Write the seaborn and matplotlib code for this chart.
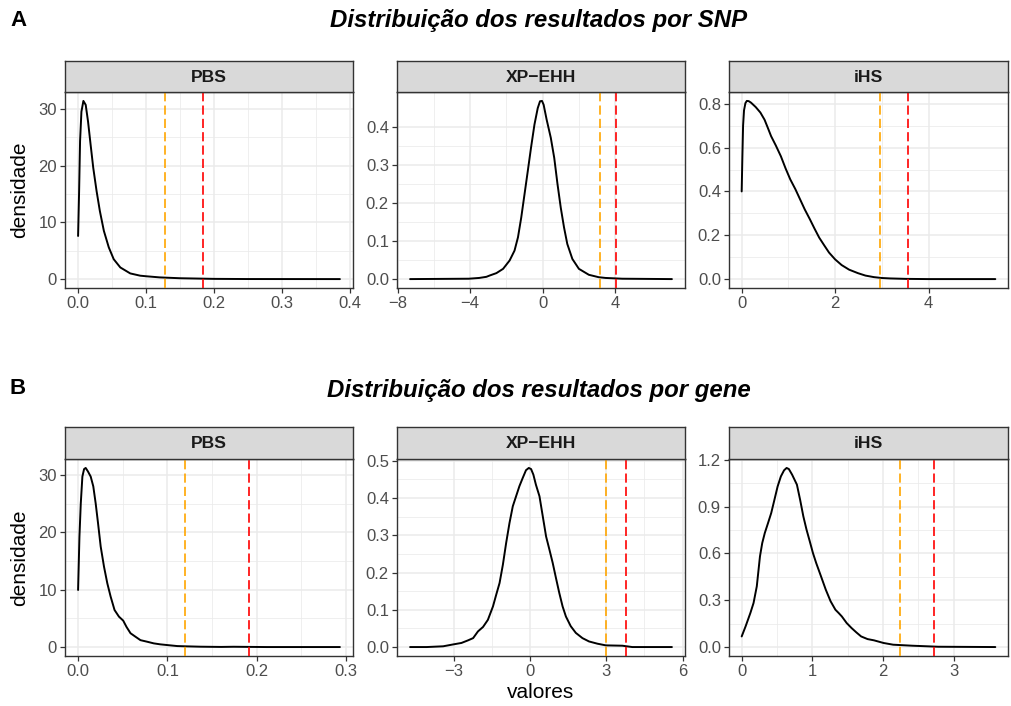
import numpy as np
import pandas as pd
import matplotlib
matplotlib.use("Agg")
import matplotlib.pyplot as plt
from matplotlib.ticker import FixedLocator
import seaborn as sns

sns.set_theme(style="white")
plt.rcParams['font.family'] = ['Liberation Sans', 'DejaVu Sans']

# ---------------- data ----------------
panel_names = ["PBS", "XP\u2212EHH", "iHS"]
row_titles = ["Distribuição dos resultados por SNP", "Distribuição dos resultados por gene"]
row_tags = ["A", "B"]

# Row A – per SNP
snp_pbs_x = [0.0, 0.0015, 0.0029, 0.0049, 0.0078, 0.0112, 0.0146, 0.0184, 0.0223, 0.0272, 0.032,
             0.0379, 0.0451, 0.0524, 0.0621, 0.0767, 0.0913, 0.100, 0.120, 0.150, 0.200, 0.250, 0.385]
snp_pbs_y = [7.6, 15.5, 24.3, 29.5, 31.4, 30.7, 27.8, 23.7, 19.6, 15.5, 12.0,
             8.5, 5.6, 3.5, 2.05, 1.0, 0.6, 0.5, 0.3, 0.15, 0.04, 0.01, 0.0]
snp_xpehh_x = [-7.31, -4.07, -3.5, -3.1, -2.91, -2.55, -2.18, -1.82, -1.55, -1.36, -1.18, -1.0,
               -0.82, -0.64, -0.45, -0.27, -0.145, -0.036, 0.055, 0.22, 0.45, 0.64, 0.82, 1.0,
               1.18, 1.36, 1.64, 2.0, 2.55, 3.09, 3.47, 4.39, 7.13]
snp_xpehh_y = [0.0, 0.001, 0.003, 0.006, 0.0096, 0.0157, 0.027, 0.049, 0.075, 0.11, 0.162, 0.223,
               0.284, 0.346, 0.407, 0.45, 0.468, 0.469, 0.459, 0.42, 0.372, 0.319, 0.25, 0.188,
               0.136, 0.0925, 0.053, 0.027, 0.0113, 0.005, 0.003, 0.001, 0.0]
snp_ihs_x = [0.0, 0.015, 0.03, 0.05, 0.08, 0.11, 0.15, 0.2, 0.3, 0.4, 0.49, 0.56, 0.63, 0.73,
             0.84, 0.94, 1.04, 1.15, 1.25, 1.35, 1.46, 1.56, 1.66, 1.77, 1.87, 2.0, 2.14, 2.3,
             2.49, 2.65, 2.83, 3.0, 3.18, 3.52, 4.0, 5.43]
snp_ihs_y = [0.40, 0.56, 0.70, 0.77, 0.803, 0.813, 0.812, 0.805, 0.785, 0.76, 0.727, 0.69, 0.652,
             0.61, 0.56, 0.505, 0.455, 0.41, 0.364, 0.318, 0.273, 0.23, 0.189, 0.153, 0.121, 0.09,
             0.064, 0.043, 0.027, 0.016, 0.009, 0.005, 0.003, 0.001, 0.0, 0.0]

# Row B – per gene
gene_pbs_x = [0.0, 0.0015, 0.003, 0.0048, 0.0067, 0.0085, 0.011, 0.0141, 0.017, 0.0197, 0.0223,
              0.0253, 0.029, 0.0327, 0.0364, 0.0408, 0.0457, 0.0505, 0.0542, 0.0587, 0.0642,
              0.0698, 0.0772, 0.0847, 0.092, 0.0995, 0.111, 0.122, 0.137, 0.16, 0.174, 0.211, 0.293]
gene_pbs_y = [9.94, 19.2, 25.0, 29.7, 31.0, 31.2, 30.6, 29.7, 28.0, 25.0, 21.6,
              17.5, 14.0, 11.1, 8.8, 6.45, 5.3, 4.6, 3.5, 2.4, 1.8,
              1.2, 0.93, 0.64, 0.47, 0.35, 0.17, 0.12, 0.06, 0.02, 0.05, 0.0, 0.0]
gene_xpehh_x = [-4.72, -4.07, -3.42, -3.03, -2.7, -2.44, -2.24, -2.05, -1.85, -1.66, -1.46, -1.33,
                -1.2, -1.07, -0.94, -0.81, -0.68, -0.55, -0.42, -0.29, -0.16, -0.05, 0.04, 0.13,
                0.23, 0.37, 0.5, 0.63, 0.76, 0.89, 1.02, 1.15, 1.28, 1.41, 1.6, 1.8, 2.06, 2.32,
                2.65, 2.98, 3.63, 4.02, 5.58]
gene_xpehh_y = [0.0, 0.0, 0.002, 0.007, 0.011, 0.018, 0.024, 0.042, 0.054, 0.073, 0.109, 0.141,
                0.172, 0.221, 0.28, 0.333, 0.378, 0.405, 0.432, 0.454, 0.475, 0.481, 0.478, 0.463,
                0.436, 0.405, 0.351, 0.297, 0.262, 0.226, 0.185, 0.145, 0.109, 0.082, 0.056, 0.038,
                0.024, 0.015, 0.009, 0.0045, 0.0036, 0.0, 0.0]
gene_ihs_x = [0.0, 0.055, 0.123, 0.168, 0.214, 0.259, 0.291, 0.327, 0.373, 0.418, 0.464, 0.509,
              0.555, 0.6, 0.636, 0.668, 0.714, 0.782, 0.827, 0.873, 0.918, 0.964, 1.009, 1.055,
              1.123, 1.191, 1.259, 1.327, 1.373, 1.418, 1.486, 1.555, 1.623, 1.691, 1.782, 1.873,
              2.009, 2.145, 2.418, 2.782, 3.591]
gene_ihs_y = [0.068, 0.132, 0.218, 0.282, 0.389, 0.581, 0.666, 0.73, 0.794, 0.858, 0.944, 1.029,
              1.093, 1.132, 1.147, 1.14, 1.104, 1.04, 0.944, 0.837, 0.752, 0.677, 0.602, 0.538,
              0.453, 0.367, 0.293, 0.239, 0.218, 0.196, 0.154, 0.122, 0.094, 0.068, 0.051, 0.043,
              0.026, 0.015, 0.0085, 0.002, 0.0]

# thresholds (orange, red)
snp_thr_orange = [0.1275, 3.18, 2.955]
snp_thr_red = [0.1833, 4.04, 3.57]
gene_thr_orange = [0.1192, 2.99, 2.245]
gene_thr_red = [0.1912, 3.77, 2.727]

# ticks
snp_xticks = [[0.0, 0.1, 0.2, 0.3, 0.4], [-8, -4, 0, 4], [0, 2, 4]]
snp_xticklabels = [["0.0", "0.1", "0.2", "0.3", "0.4"], ["\u22128", "\u22124", "0", "4"], ["0", "2", "4"]]
snp_yticks = [[0, 10, 20, 30], [0.0, 0.1, 0.2, 0.3, 0.4], [0.0, 0.2, 0.4, 0.6, 0.8]]
snp_yticklabels = [["0", "10", "20", "30"], ["0.0", "0.1", "0.2", "0.3", "0.4"], ["0.0", "0.2", "0.4", "0.6", "0.8"]]
gene_xticks = [[0.0, 0.1, 0.2, 0.3], [-3, 0, 3, 6], [0, 1, 2, 3]]
gene_xticklabels = [["0.0", "0.1", "0.2", "0.3"], ["\u22123", "0", "3", "6"], ["0", "1", "2", "3"]]
gene_yticks = [[0, 10, 20, 30], [0.0, 0.1, 0.2, 0.3, 0.4, 0.5], [0.0, 0.3, 0.6, 0.9, 1.2]]
gene_yticklabels = [["0", "10", "20", "30"], ["0.0", "0.1", "0.2", "0.3", "0.4", "0.5"],
                    ["0.0", "0.3", "0.6", "0.9", "1.2"]]

rows = [
    dict(xs=[snp_pbs_x, snp_xpehh_x, snp_ihs_x], ys=[snp_pbs_y, snp_xpehh_y, snp_ihs_y],
         orange=snp_thr_orange, red=snp_thr_red, xt=snp_xticks, xtl=snp_xticklabels,
         yt=snp_yticks, ytl=snp_yticklabels),
    dict(xs=[gene_pbs_x, gene_xpehh_x, gene_ihs_x], ys=[gene_pbs_y, gene_xpehh_y, gene_ihs_y],
         orange=gene_thr_orange, red=gene_thr_red, xt=gene_xticks, xtl=gene_xticklabels,
         yt=gene_yticks, ytl=gene_yticklabels),
]

# ---------------- layout ----------------
W, H = 1012, 706
fig = plt.figure(figsize=(W / 100, H / 100), dpi=100)
fig.patch.set_facecolor("white")

def px_axes(l, t, r, b):
    return fig.add_axes([l / W, 1 - b / H, (r - l) / W, (b - t) / H])

cols = [(65, 353), (397, 685), (729, 1008)]
row_geom = [dict(strip=(61, 92), panel=(92, 288), title_y=20, tag_y=20),
            dict(strip=(427, 459), panel=(459, 656), title_y=390, tag_y=388)]

GRID = "#EBEBEB"
BORDER = "#333333"
TICKTXT = "#4D4D4D"

for ri, (row, geom) in enumerate(zip(rows, row_geom)):
    for ci, (l, r) in enumerate(cols):
        t, b = geom["panel"]
        ax = px_axes(l, t, r, b)
        x = np.array(row["xs"][ci]); y = np.array(row["ys"][ci])
        df = pd.DataFrame({"valores": x, "densidade": y})
        xr = x.max() - x.min(); yr = y.max() - 0
        ax.set_xlim(x.min() - 0.05 * xr, x.max() + 0.05 * xr)
        ax.set_ylim(0 - 0.05 * yr, y.max() + 0.05 * yr)
        xt = row["xt"][ci]; yt = row["yt"][ci]
        xminor = [(a + bb) / 2 for a, bb in zip(xt[:-1], xt[1:])]
        yminor = [(a + bb) / 2 for a, bb in zip(yt[:-1], yt[1:])]
        ax.set_xticks(xt); ax.set_xticklabels(row["xtl"][ci])
        ax.set_yticks(yt); ax.set_yticklabels(row["ytl"][ci])
        ax.xaxis.set_minor_locator(FixedLocator(xminor))
        ax.yaxis.set_minor_locator(FixedLocator(yminor))
        ax.grid(True, which="major", color=GRID, lw=1.1, zorder=0)
        ax.grid(True, which="minor", color=GRID, lw=0.55, zorder=0)
        ax.set_axisbelow(True)
        sns.lineplot(data=df, x="valores", y="densidade", ax=ax, color="black", lw=1.4,
                     sort=False, estimator=None, zorder=3)
        ax.axvline(row["orange"][ci], color="#FFA500", lw=1.2, dashes=(5.5, 2.5), zorder=4)
        ax.axvline(row["red"][ci], color="#FF0000", lw=1.2, dashes=(5.5, 2.5), zorder=4)
        ax.set_xlabel(""); ax.set_ylabel("")
        for s in ax.spines.values():
            s.set_color(BORDER); s.set_linewidth(1.0); s.set_visible(True)
        ax.tick_params(axis="both", which="major", direction="out", length=3.8, width=0.9,
                       color=BORDER, labelsize=12, labelcolor=TICKTXT, pad=2,
                       bottom=True, left=True)
        ax.tick_params(axis="both", which="minor", length=0)
        # strip
        st, sb = geom["strip"]
        sax = px_axes(l, st, r, sb)
        sax.set_facecolor("#D9D9D9")
        sax.set_xticks([]); sax.set_yticks([])
        for s in sax.spines.values():
            s.set_color(BORDER); s.set_linewidth(1.0)
        sax.text(0.5, 0.48, panel_names[ci], ha="center", va="center", fontsize=12.6,
                 fontweight="bold", color="#1A1A1A", transform=sax.transAxes)
    t, b = geom["panel"]
    fig.text(20 / W, 1 - ((t + b) / 2) / H, "densidade", rotation=90, ha="center", va="center",
             fontsize=15, color="black")
    fig.text(539 / W, 1 - geom["title_y"] / H, row_titles[ri], ha="center", va="center",
             fontsize=17.3, fontweight="bold", fontstyle="italic", color="black")
    fig.text(10 / W, 1 - geom["tag_y"] / H, row_tags[ri], ha="left", va="center",
             fontsize=16, fontweight="bold", color="black")

fig.text(541 / W, 1 - 692 / H, "valores", ha="center", va="center", fontsize=15, color="black")

fig.savefig("out.png", dpi=100, facecolor="white")
